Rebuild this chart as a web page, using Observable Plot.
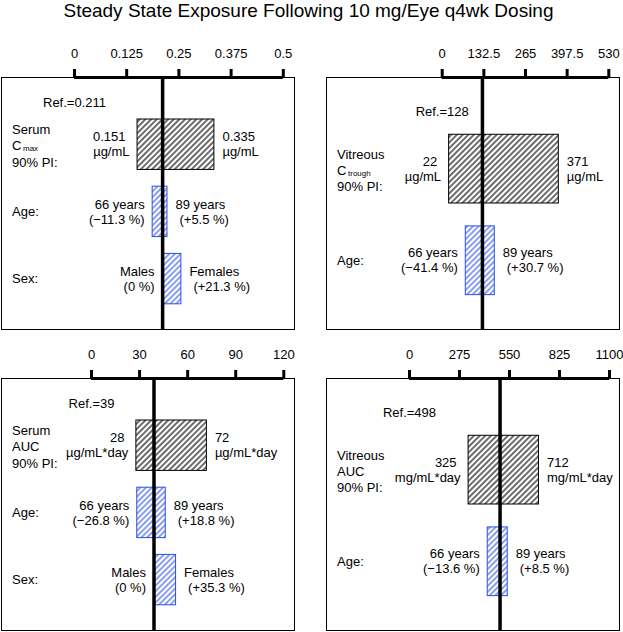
<!DOCTYPE html>
<html><head><meta charset="utf-8">
<script src="https://cdn.jsdelivr.net/npm/d3@7"></script>
<script src="https://cdn.jsdelivr.net/npm/@observablehq/plot@0.6"></script>
<style>
body{margin:0;background:#fff;}
#wrap{position:relative;width:623px;height:632px;font-family:"Liberation Sans",Arial,sans-serif;overflow:hidden;}
#title{position:absolute;left:0;top:1px;width:617px;text-align:center;font-size:19px;line-height:20px;color:#000;white-space:nowrap;}
.panel{position:absolute;}
</style></head><body>
<div id="wrap"><div id="title"></div>
<svg width="0" height="0" style="position:absolute"><defs>
<pattern id="hatchBlack" patternUnits="userSpaceOnUse" width="4" height="4" patternTransform="rotate(45)"><line x1="2" y1="-1" x2="2" y2="5" stroke="#000" stroke-width="1.15"/></pattern>
<pattern id="hatchBlue" patternUnits="userSpaceOnUse" width="4" height="4" patternTransform="rotate(45)"><line x1="2" y1="-1" x2="2" y2="5" stroke="#2a4ee6" stroke-width="1.1"/></pattern>
</defs></svg>
</div>
<script>
// ---- data ----
const title = "Steady State Exposure Following 10 mg/Eye q4wk Dosing";
const refValues = [0.211, 128, 39, 498];
const axisMax = [0.5, 530, 120, 1100];
const axisTicks = [
  [0, 0.125, 0.25, 0.375, 0.5],
  [0, 132.5, 265, 397.5, 530],
  [0, 30, 60, 90, 120],
  [0, 275, 550, 825, 1100]
];
const labelTop = ["Serum", "Vitreous", "Serum", "Vitreous"];
const labelMain = ["C", "C", "AUC", "AUC"];
const labelSub = ["max", "trough", "", ""];
const labelBottom = "90% PI:";
const piLow = [0.151, 22, 28, 325];
const piHigh = [0.335, 371, 72, 712];
const piUnit = ["µg/mL", "µg/mL", "µg/mL*day", "mg/mL*day"];
const ageGroups = ["66 years", "89 years"];
const ageLowPct = [-11.3, -41.4, -26.8, -13.6];
const ageHighPct = [5.5, 30.7, 18.8, 8.5];
const sexGroups = ["Males", "Females"];
const sexLowPct = [0, null, 0, null];
const sexHighPct = [21.3, null, 35.3, null];

// ---- layout (page pixels) ----
const layout = [
  {left: 0,   top: 30,  width: 300, height: 302, box: [1, 294, 77, 329],   xr: [74, 282.8]},
  {left: 310, top: 30,  width: 313, height: 302, box: [326, 619, 77, 329], xr: [441.7, 608.3]},
  {left: 0,   top: 331, width: 300, height: 301, box: [1, 294, 378, 630],  xr: [91, 283.3]},
  {left: 310, top: 331, width: 313, height: 301, box: [326, 619, 378, 630], xr: [409, 609]}
];
const FONT = '"Liberation Sans", Arial, sans-serif';
const BLUE = "#2a4ee6";

document.getElementById("title").textContent = title;

const fmtPct = v => v === 0 ? "(0 %)" : v < 0 ? `(\u2212${-v} %)` : `(+${v} %)`;

function panel(i) {
  const L = layout[i];
  const ref = refValues[i];
  const pi = [{row: 1, lo: piLow[i], hi: piHigh[i], loText: String(piLow[i]), hiText: String(piHigh[i]), unit: piUnit[i]}];
  const cov = [{row: 2, name: "Age:", lo: ref * (1 + ageLowPct[i] / 100), hi: ref * (1 + ageHighPct[i] / 100),
    l1: ageGroups[0], l2: fmtPct(ageLowPct[i]), r1: ageGroups[1], r2: fmtPct(ageHighPct[i])}];
  if (sexHighPct[i] != null) {
    cov.push({row: 3, name: "Sex:", lo: ref * (1 + sexLowPct[i] / 100), hi: ref * (1 + sexHighPct[i] / 100),
      l1: sexGroups[0], l2: fmtPct(sexLowPct[i]), r1: sexGroups[1], r2: fmtPct(sexHighPct[i])});
  }
  const nRows = 1 + cov.length;
  const ymax = nRows + 0.75;
  const h = 0.375;
  const mL = L.box[0] - L.left, mR = L.left + L.width - L.box[1];
  const mT = L.box[2] - L.top, mB = L.top + L.height - L.box[3];
  const fs = 13;
  const t = {fontSize: fs, fill: "#000"};
  const svg = Plot.plot({
    width: L.width, height: L.height,
    marginLeft: mL, marginRight: mR, marginTop: mT, marginBottom: mB,
    style: {fontFamily: FONT, fontSize: "13px", background: "transparent", overflow: "visible", color: "#000"},
    x: {domain: [0, axisMax[i]], range: [L.xr[0] - L.left, L.xr[1] - L.left]},
    y: {domain: [0, ymax], reverse: true, axis: null},
    marks: [
      Plot.frame({stroke: "#000", strokeWidth: 1}),
      Plot.rect(pi, {x1: "lo", x2: "hi", y1: d => d.row - h, y2: d => d.row + h, fill: "url(#hatchBlack)", stroke: "#000", strokeWidth: 1}),
      Plot.rect(cov, {x1: "lo", x2: "hi", y1: d => d.row - h, y2: d => d.row + h, fill: "url(#hatchBlue)", stroke: BLUE, strokeWidth: 1}),
      Plot.ruleX([ref], {y1: 0, y2: ymax, stroke: "#000", strokeWidth: 3.5}),
      Plot.ruleY([0], {x1: 0, x2: axisMax[i], stroke: "#000", strokeWidth: 3}),
      Plot.axisX(axisTicks[i], {anchor: "top", tickSize: 9, tickPadding: 15, strokeWidth: 3, lineAnchor: "middle", fontSize: fs, tickFormat: d => String(d), label: null}),
      Plot.text([ref], {x: 0, y: 0.38, text: d => "Ref.=" + d, ...t}),
      // left-hand row labels
      Plot.text(pi, {frameAnchor: "left", y: "row", text: () => labelTop[i], dx: 10.5, dy: -14.5, textAnchor: "start", ...t}),
      Plot.text(pi, {frameAnchor: "left", y: "row", text: () => labelMain[i], dx: 10.5, dy: 1.5, textAnchor: "start", ...t}),
      Plot.text(pi, {frameAnchor: "left", y: "row", text: () => labelSub[i], dx: 21.5, dy: 4, textAnchor: "start", fontSize: 8, fill: "#000"}),
      Plot.text(pi, {frameAnchor: "left", y: "row", text: () => labelBottom, dx: 10.5, dy: 18, textAnchor: "start", ...t}),
      Plot.text(cov, {frameAnchor: "left", y: "row", text: "name", dx: 10.5, textAnchor: "start", ...t}),
      // PI values
      Plot.text(pi, {x: "lo", y: "row", text: "loText", dx: -12, dy: -7.5, textAnchor: "end", ...t}),
      Plot.text(pi, {x: "lo", y: "row", text: "unit", dx: -8, dy: 7.5, textAnchor: "end", ...t}),
      Plot.text(pi, {x: "hi", y: "row", text: "hiText", dx: 8, dy: -7.5, textAnchor: "start", ...t}),
      Plot.text(pi, {x: "hi", y: "row", text: "unit", dx: 8, dy: 7.5, textAnchor: "start", ...t}),
      // covariate values
      Plot.text(cov, {x: "lo", y: "row", text: "l1", dx: -8, dy: -7.5, textAnchor: "end", ...t}),
      Plot.text(cov, {x: "lo", y: "row", text: "l2", dx: -8, dy: 7.5, textAnchor: "end", ...t}),
      Plot.text(cov, {x: "hi", y: "row", text: "r1", dx: 8, dy: -7.5, textAnchor: "start", ...t}),
      Plot.text(cov, {x: "hi", y: "row", text: "r2", dx: 12, dy: 7.5, textAnchor: "start", ...t})
    ]
  });
  svg.classList.add("panel");
  svg.style.left = L.left + "px";
  svg.style.top = L.top + "px";
  svg.style.position = "absolute";
  return svg;
}

const wrap = document.getElementById("wrap");
for (let i = 0; i < 4; i++) wrap.appendChild(panel(i));
</script>
</body></html>
